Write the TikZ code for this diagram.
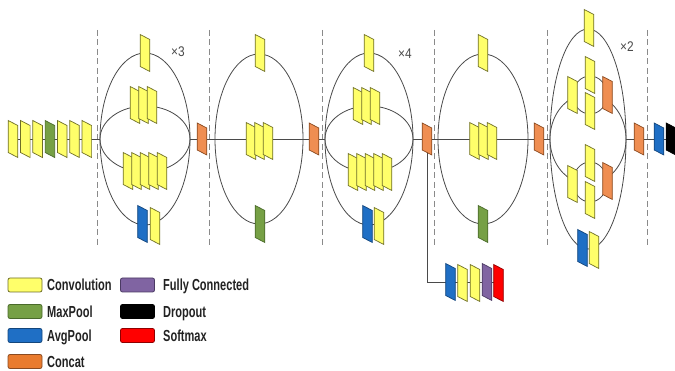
\documentclass[tikz,border=0pt]{standalone}
\usepackage{fontspec}
\setmainfont{Liberation Sans}
\definecolor{convF}{HTML}{FFFF6A}
\definecolor{convD}{HTML}{6E6E28}
\definecolor{poolF}{HTML}{76A045}
\definecolor{poolD}{HTML}{4A6A2A}
\definecolor{avgF}{HTML}{1F6FC5}
\definecolor{avgD}{HTML}{14467C}
\definecolor{catF}{HTML}{EF8E52}
\definecolor{catD}{HTML}{8A4A20}
\definecolor{catL}{HTML}{E97B2E}
\definecolor{fcF}{HTML}{8064A2}
\definecolor{fcD}{HTML}{4B3A63}
\definecolor{smF}{HTML}{FF0000}
\definecolor{smD}{HTML}{900000}
\definecolor{lineC}{HTML}{4A4A4A}
\definecolor{dashC}{HTML}{8A8A8A}
\definecolor{txtC}{HTML}{222222}
\begin{document}
\begin{tikzpicture}[x=1pt,y=-1pt,
  conv/.style={fill=convF,draw=convD},
  maxp/.style={fill=poolF,draw=poolD},
  avgp/.style={fill=avgF,draw=avgD},
  cat/.style={fill=catF,draw=catD},
  catleg/.style={fill=catL,draw=catD},
  fc/.style={fill=fcF,draw=fcD},
  drop/.style={fill=black,draw=black},
  soft/.style={fill=smF,draw=smD},
  wire/.style={draw=lineC,line width=0.8pt},
  sepline/.style={draw=dashC,line width=0.9pt,dash pattern=on 6pt off 3.5pt},
  pics/blk/.style={code={\draw[line width=0.7pt,#1] (-4.8,-18.5) -- (4.8,-13.5) -- (4.8,18.5) -- (-4.8,13.5) -- cycle;}},
  pics/sblk/.style={code={\draw[line width=0.7pt,#1] (-4.8,-16) -- (4.8,-11) -- (4.8,16) -- (-4.8,11) -- cycle;}},
  swatch/.style={minimum width=34pt,minimum height=14pt,rounded corners=2pt,line width=0.8pt,inner sep=0pt},
  legtxt/.style={anchor=base west,inner sep=0pt,text=txtC,font=\fontsize{16}{18}\selectfont\bfseries},
  multxt/.style={inner sep=0pt,text=lineC,font=\fontsize{14}{16}\selectfont},
]
\useasboundingbox (0,0) rectangle (675,371);

% separators
\foreach \x/\n in {97/d1,209/d2,322/d3,434/d4,547/d5,647/d6}{
  \coordinate (\n t) at (\x,30);
  \coordinate (\n b) at (\x,248);
  \draw[sepline] (\n t) -- (\n b);
}

% key coordinates
\coordinate (stem0) at (13,139);
\coordinate (A1) at (145,139);
\coordinate (A1w) at (100,139);
\coordinate (A1e) at (190,139);
\coordinate (B2) at (259,139);
\coordinate (A3) at (369,139);
\coordinate (A3w) at (325,139);
\coordinate (A3e) at (413,139);
\coordinate (B4) at (483,139);
\coordinate (C5) at (588,139);
\coordinate (C5w) at (550,139);
\coordinate (C5e) at (626,139);
\coordinate (endp) at (671,139);
\coordinate (cat3) at (427,139);
\coordinate (aux5) at (498,282);

% wires
\draw[wire] (stem0) -- (A1w);
\draw[wire] (A1e) -- (A3w);
\draw[wire] (A3e) -- (C5w);
\draw[wire] (C5e) -- (endp);
\draw[wire] (cat3) |- (aux5);

\draw[wire] (A1) ellipse[x radius=45pt,y radius=86pt];
\draw[wire] (A1w) arc[start angle=180,end angle=0,x radius=45pt,y radius=33pt];
\draw[wire] (A1w) arc[start angle=180,end angle=360,x radius=45pt,y radius=33pt];

\draw[wire] (B2) ellipse[x radius=44pt,y radius=85pt];

\draw[wire] (A3) ellipse[x radius=44pt,y radius=86pt];
\draw[wire] (A3w) arc[start angle=180,end angle=0,x radius=44pt,y radius=33pt];
\draw[wire] (A3w) arc[start angle=180,end angle=360,x radius=44pt,y radius=33pt];

\draw[wire] (B4) ellipse[x radius=45pt,y radius=85pt];

\draw[wire] (C5) ellipse[x radius=38pt,y radius=110pt];
\draw[wire] (C5w) arc[start angle=180,end angle=115,x radius=38pt,y radius=45pt];
\draw[wire] (C5e) arc[start angle=0,end angle=65,x radius=38pt,y radius=45pt];
\draw[wire] (C5w) arc[start angle=180,end angle=245,x radius=38pt,y radius=45pt];
\draw[wire] (C5e) arc[start angle=0,end angle=-65,x radius=38pt,y radius=45pt];
\coordinate (C5u) at (590,95);
\coordinate (C5l) at (590,182);
\draw[wire] (C5u) ellipse[x radius=17pt,y radius=19pt];
\draw[wire] (C5l) ellipse[x radius=17pt,y radius=20pt];

% stem
\foreach \i/\s in {0/conv,1/conv,2/conv,3/maxp,4/conv,5/conv,6/conv}{
  \pic (st\i) at ({13+12.3*\i},139) {blk=\s};
}

% block 1 (x3)
\pic (a1t) at (145,53) {blk=conv};
\foreach \x in {135,143.5,152}{\pic at (\x,105) {blk=conv};}
\foreach \x in {128,136.5,145,153.5,162}{\pic at (\x,171) {blk=conv};}
\pic (a1p) at (142.5,224) {blk=avgp};
\pic (a1c) at (155,226) {blk=conv};
\pic (cat1) at (202,139) {sblk=cat};

% block 2
\pic (b2t) at (260,53) {blk=conv};
\foreach \x in {251,259.5,268}{\pic at (\x,141) {blk=conv};}
\pic (b2m) at (260,224) {blk=maxp};
\pic (cat2) at (314,139) {sblk=cat};

% block 3 (x4)
\pic (a3t) at (369,53) {blk=conv};
\foreach \x in {358,366.5,375}{\pic at (\x,106) {blk=conv};}
\foreach \x in {353,361.5,370,378.5,387}{\pic at (\x,172) {blk=conv};}
\pic (a3p) at (367.5,224) {blk=avgp};
\pic (a3c) at (379,226) {blk=conv};
\pic (cat3b) at (427,139) {sblk=cat};

% auxiliary head
\pic (x1) at (450.5,282) {blk=avgp};
\pic (x2) at (462.5,283) {blk=conv};
\pic (x3) at (475,283) {blk=conv};
\pic (x4) at (487,282) {blk=fc};
\pic (x5) at (498.5,283) {blk=soft};

% block 4
\pic (b4t) at (483,53) {blk=conv};
\foreach \x in {474.5,483.5,492}{\pic at (\x,141) {blk=conv};}
\pic (b4m) at (483,224) {blk=maxp};
\pic (cat4) at (539,139) {sblk=cat};

% block 5 (x2)
\pic (c5t) at (589,28) {blk=conv};
\pic (c5a) at (572.5,95) {blk=conv};
\pic (c5b) at (590,75) {blk=conv};
\pic (c5c) at (590,111) {blk=conv};
\pic (c5d) at (607.5,95) {blk=cat};
\pic (c5e) at (572.5,184) {blk=conv};
\pic (c5f) at (590,163) {blk=conv};
\pic (c5g) at (590,200) {blk=conv};
\pic (c5h) at (607.5,181) {blk=cat};
\pic (c5p) at (582.5,248) {blk=avgp};
\pic (c5q) at (594,250) {blk=conv};
\pic (cat5) at (639,139) {sblk=cat};
\pic (gap) at (659,139) {sblk=avgp};
\pic (dro) at (671,139) {sblk=drop};

% repeat labels
\node[multxt] (m3) at (178,52) {\scalebox{0.85}[1]{×3}};
\node[multxt] (m4) at (405,54) {\scalebox{0.85}[1]{×4}};
\node[multxt] (m2) at (627,47) {\scalebox{0.85}[1]{×2}};

% legend
\node[swatch,conv] (l1) at (25,285) {};
\node[swatch,maxp] (l2) at (25,311.5) {};
\node[swatch,avgp] (l3) at (25,335.5) {};
\node[swatch,catleg] (l4) at (25,361.5) {};
\node[swatch,fc] (l5) at (137.5,285) {};
\node[swatch,drop] (l6) at (137.5,311.5) {};
\node[swatch,soft] (l7) at (137.5,335.5) {};
\node[legtxt] (t1) at (47,290.7) {\scalebox{0.69}[1]{Convolution}};
\node[legtxt] (t2) at (47,317.2) {\scalebox{0.69}[1]{MaxPool}};
\node[legtxt] (t3) at (47,341.2) {\scalebox{0.69}[1]{AvgPool}};
\node[legtxt] (t4) at (47,367.2) {\scalebox{0.69}[1]{Concat}};
\node[legtxt] (t5) at (163,290.7) {\scalebox{0.69}[1]{Fully Connected}};
\node[legtxt] (t6) at (163,317.2) {\scalebox{0.69}[1]{Dropout}};
\node[legtxt] (t7) at (163,341.2) {\scalebox{0.69}[1]{Softmax}};
\end{tikzpicture}
\end{document}
